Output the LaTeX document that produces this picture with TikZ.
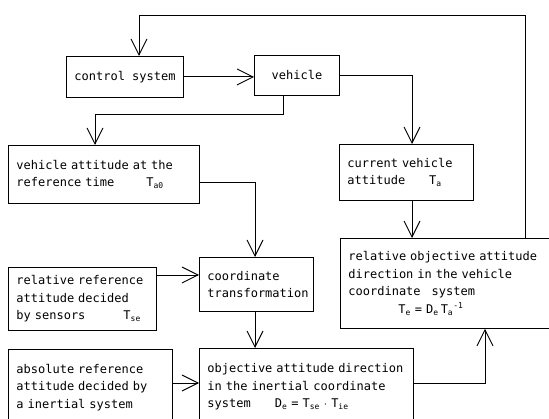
\documentclass[tikz,border=0pt]{standalone}
\usepackage{fontspec}
\newfontfamily\dfont{DejaVu Sans Mono}
\usetikzlibrary{arrows.meta}
\tikzset{
  box/.style={draw, line width=0.9pt, anchor=north west, inner xsep=8pt, inner ysep=2pt,
    align=left, font={\dfont\fontsize{12}{17.5}\selectfont}},
  cbox/.style={box, align=center},
  arr/.style={line width=0.9pt, -{Straight Barb[length=16pt,width=16pt,line width=0.9pt]}},
}
\begin{document}
\begin{tikzpicture}[x=1pt,y=-1pt]
\useasboundingbox (0,0) rectangle (549,419);
\clip (0,0) rectangle (549,419);
% boxes
\node[cbox, minimum width=117pt, minimum height=41pt] (ctrl) at (66,56) {control system};
\node[cbox, minimum width=85pt, minimum height=40pt] (veh) at (254,55) {vehicle};
\node[box, minimum width=191pt, minimum height=58pt, text width=175pt] (vatt) at (8,145)
  {vehicle attitude at the\\reference time\hspace*{32pt}T\textsubscript{a0}};
\node[box, minimum width=134pt, minimum height=56pt, text width=118pt] (cur) at (339,144)
  {current vehicle\\attitude\hspace*{24pt}T\textsubscript{a}};
\node[box, minimum width=148pt, minimum height=63pt, text width=132pt] (relref) at (8,267)
  {relative reference\\attitude decided\\by sensors\hspace*{38pt}T\textsubscript{se}};
\node[box, minimum width=114pt, minimum height=54pt, text width=98pt] (coord) at (199,257)
  {coordinate\\transformation};
\node[box, minimum width=215pt, minimum height=90pt, text width=199pt] (relobj) at (340,238)
  {relative objective attitude\\direction in the vehicle\\coordinate\hspace*{7pt} system\\
   \hspace*{50pt}T\textsubscript{e} = D\textsubscript{e}\,T\textsubscript{a}\textsuperscript{-1}};
\node[box, minimum width=164pt, minimum height=76pt, text width=148pt] (absref) at (8,349)
  {absolute reference\\attitude decided by\\a inertial system};
\node[box, minimum width=214pt, minimum height=77pt, text width=198pt] (obj) at (199,348)
  {objective attitude direction\\in the inertial coordinate\\system\hspace*{24pt}D\textsubscript{e} = T\textsubscript{se} $\cdot$ T\textsubscript{ie}};
% helper coordinates
\coordinate (fb1) at (525,15);
\coordinate (fb2) at (139,15);
\coordinate (xa) at (412,0);
\coordinate (j1) at (283,114);
\coordinate (j2) at (95,114);
\coordinate (j3) at (255,182);
\coordinate (j4) at (0,275);
\coordinate (j5) at (0,383);
\coordinate (j6) at (485,383);
% connectors
\draw[arr] (fb1 |- relobj.north) -- (fb1) -- (fb2) -- (fb2 |- ctrl.north);
\draw[arr] (ctrl.east) -- (ctrl.east -| veh.west);
\draw[arr] (veh.east) -| (cur.north -| xa);
\draw[arr] (veh.south -| j1) -- (j1) -- (j2) -- (j2 |- vatt.north);
\draw[arr] (vatt.east |- j3) -- (j3) -- (j3 |- coord.north);
\draw[arr] (cur.south -| xa) -- (relobj.north -| xa);
\draw[arr] (relref.east |- j4) -- (coord.west |- j4);
\draw[arr] (coord.south -| j3) -- (obj.north -| j3);
\draw[arr] (absref.east |- j5) -- (obj.west |- j5);
\draw[arr] (obj.east |- j6) -- (j6) -- (j6 |- relobj.south);
\end{tikzpicture}
\end{document}
